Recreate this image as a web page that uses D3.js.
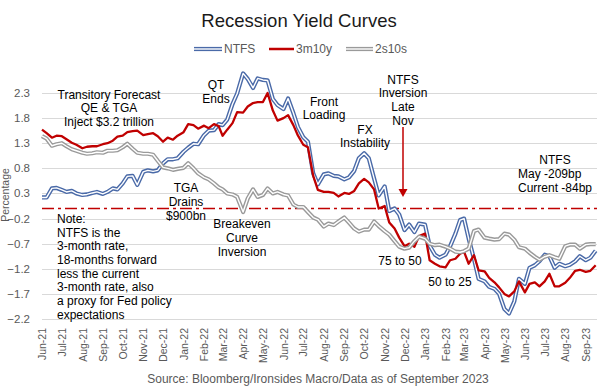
<!DOCTYPE html>
<html>
<head>
<meta charset="utf-8">
<script src="https://cdn.jsdelivr.net/npm/d3@7"></script>
<style>
html,body{margin:0;padding:0;background:#fff;}
svg{display:block;font-family:"Liberation Sans",Arial,sans-serif;}
</style>
</head>
<body>
<svg id="chart" width="600" height="391"></svg>
<script>
// ---- data ----
const months = ["2021-06","2021-07","2021-08","2021-09","2021-10","2021-11","2021-12",
  "2022-01","2022-02","2022-03","2022-04","2022-05","2022-06","2022-07","2022-08","2022-09",
  "2022-10","2022-11","2022-12","2023-01","2023-02","2023-03","2023-04","2023-05","2023-06",
  "2023-07","2023-08","2023-09"];
const obsDays = ["01","08","16","23"];
const seriesNames = ["NTFS","3m10y","2s10s"];
const yTicks = [-2.2,-1.7,-1.2,-0.7,-0.2,0.3,0.8,1.3,1.8,2.3];

const ntfs = [
  0.22,0.22,0.40,0.41, 0.37,0.33,0.35,0.30, 0.27,0.28,0.31,0.33, 0.29,0.33,0.40,0.38,
  0.50,0.64,0.65,0.47, 0.73,0.76,0.74,0.76, 0.90,0.98,0.98,1.00, 1.13,1.21,1.29,1.28,
  1.46,1.55,1.56,1.68, 1.66,1.77,2.08,2.29, 2.69,2.58,2.40,2.59, 2.56,2.55,2.18,2.06,
  1.98,2.19,1.90,1.62, 1.42,1.33,0.70,0.48, 0.68,0.70,0.65,0.64, 0.58,0.62,0.75,1.00,
  1.10,1.00,0.60,0.26, 0.44,-0.05,0.00,-0.12, -0.43,-0.32,-0.47,-0.30, -0.32,-0.74,-0.92,-0.98,
  -0.92,-0.75,-0.50,-0.23, -0.20,-0.60,-1.00,-1.40, -1.45,-1.56,-1.60,-1.70, -2.00,-2.09,-1.85,-1.40,
  -1.50,-1.18,-1.13,-1.05, -0.92,-0.95,-1.18,-1.10, -1.15,-1.12,-1.05,-0.95, -1.03,-0.98,-0.84];
const m3y10 = [
  1.57,1.50,1.41,1.45, 1.44,1.38,1.31,1.27, 1.20,1.23,1.24,1.24, 1.28,1.30,1.35,1.43,
  1.45,1.52,1.54,1.55, 1.46,1.48,1.50,1.44, 1.33,1.41,1.37,1.45, 1.52,1.68,1.66,1.59,
  1.65,1.60,1.68,1.64, 1.45,1.57,1.70,1.92, 1.91,2.03,2.10,2.12, 2.12,2.30,1.95,1.75,
  1.80,1.86,1.66,1.45, 1.27,1.22,0.65,0.37, 0.33,0.33,0.31,0.24, 0.31,0.29,0.35,0.50,
  0.59,0.52,0.38,0.00, 0.05,-0.28,-0.40,-0.58, -0.75,-0.70,-0.76,-0.55, -0.50,-1.03,-1.10,-1.15,
  -1.17,-1.03,-1.00,-0.90, -0.86,-1.10,-0.93,-1.23, -1.25,-1.38,-1.47,-1.57, -1.70,-1.75,-1.65,-1.45,
  -1.67,-1.50,-1.47,-1.55, -1.45,-1.30,-1.55,-1.55, -1.48,-1.38,-1.24,-1.22, -1.26,-1.24,-1.13];
const s2s10 = [
  1.44,1.39,1.25,1.28, 1.30,1.24,1.18,1.15, 1.11,1.09,1.10,1.12, 1.11,1.15,1.15,1.16,
  1.22,1.29,1.19,1.11, 1.09,1.09,1.07,0.95, 0.82,0.80,0.77,0.79, 0.81,0.90,0.80,0.70,
  0.62,0.58,0.50,0.42, 0.38,0.30,0.28,0.23, -0.07,0.20,0.38,0.23, 0.27,0.40,0.30,0.33,
  0.28,0.26,0.08,0.03, 0.03,-0.07,-0.18,-0.22, -0.36,-0.30,-0.33,-0.26, -0.18,-0.28,-0.40,-0.46,
  -0.42,-0.42,-0.26,-0.35, -0.45,-0.52,-0.65,-0.76, -0.80,-0.78,-0.65,-0.56, -0.60,-0.70,-0.73,-0.72,
  -0.76,-0.80,-0.86,-0.87, -0.85,-0.80,-0.45,-0.42, -0.58,-0.60,-0.62,-0.61, -0.50,-0.52,-0.62,-0.77,
  -0.80,-0.88,-0.96,-1.02, -0.96,-0.93,-0.97,-1.00, -0.75,-0.72,-0.72,-0.80, -0.72,-0.71,-0.71];

// ---- build ----
const parse = d3.timeParse("%Y-%m-%d");
const dates = [];
months.forEach(m => obsDays.forEach(d => dates.push(parse(m + "-" + d))));
const monthDates = months.map(m => parse(m + "-01"));

const svg = d3.select("#chart");
const L = 42, R = 597, B = 319;
const x = d3.scaleTime().domain([parse("2021-06-01"), parse("2023-09-18")]).range([L, R]);
const y = d3.scaleLinear().domain([-2.2, 2.3]).range([B, 93]);

const grey = "#595959";

// gridlines
svg.append("g").selectAll("line").data(yTicks).join("line")
  .attr("x1", L).attr("x2", R)
  .attr("y1", d => Math.round(y(d)) + 0.5).attr("y2", d => Math.round(y(d)) + 0.5)
  .attr("stroke", "#d9d9d9").attr("stroke-width", 1);

// y tick labels
svg.append("g").selectAll("text").data(yTicks).join("text")
  .attr("x", 30).attr("y", d => y(d)).attr("dy", "0.35em")
  .attr("text-anchor", "end").attr("font-size", 11.5).attr("fill", grey)
  .text(d => d3.format(".1f")(d));

// x axis
const xAxis = d3.axisBottom(x).tickValues(monthDates).tickSize(0)
  .tickFormat(d3.timeFormat("%b-%y"));
const gx = svg.append("g").attr("transform", `translate(0,${B})`).call(xAxis);
gx.select(".domain").remove();
gx.selectAll("text")
  .attr("transform", "rotate(-90)")
  .attr("x", -9).attr("y", 0).attr("dy", "0.35em")
  .attr("text-anchor", "end")
  .attr("font-size", 10.5).attr("fill", grey)
  .attr("font-family", "\"Liberation Sans\",Arial,sans-serif");

// axis title
svg.append("text").attr("transform", "translate(9,195) rotate(-90)")
  .attr("text-anchor", "middle").attr("font-size", 10.5).attr("fill", grey)
  .text("Percentage");

// zero reference line
svg.append("line").attr("x1", L).attr("x2", R)
  .attr("y1", y(0)).attr("y2", y(0))
  .attr("stroke", "#C00000").attr("stroke-width", 1.3)
  .attr("stroke-dasharray", "12,4,3,4");

// lines
const line = vals => d3.line().x((d, i) => x(dates[i])).y(d => y(d))(vals);
function doubleLine(vals, color) {
  svg.append("path").attr("d", line(vals)).attr("fill", "none")
    .attr("stroke", color).attr("stroke-width", 4.2).attr("stroke-linejoin", "round");
  svg.append("path").attr("d", line(vals)).attr("fill", "none")
    .attr("stroke", "#fff").attr("stroke-width", 1.4).attr("stroke-linejoin", "round");
}
doubleLine(ntfs, "#4A6AA8");
svg.append("path").attr("d", line(m3y10)).attr("fill", "none")
  .attr("stroke", "#C00000").attr("stroke-width", 2.3).attr("stroke-linejoin", "round");
doubleLine(s2s10, "#9a9a9a");

// title
svg.append("text").attr("x", 299).attr("y", 27).attr("text-anchor", "middle")
  .attr("font-size", 18.5).attr("fill", "#1a1a1a").text("Recession Yield Curves");

// legend
const legY = 49;
const leg = [
  {name: seriesNames[0], x1: 194, x2: 222, tx: 224, type: "double", color: "#4A6AA8"},
  {name: seriesNames[1], x1: 269, x2: 294, tx: 296, type: "solid", color: "#C00000"},
  {name: seriesNames[2], x1: 346, x2: 373, tx: 375, type: "double", color: "#9a9a9a"}
];
leg.forEach(l => {
  if (l.type === "double") {
    svg.append("line").attr("x1", l.x1).attr("x2", l.x2).attr("y1", legY).attr("y2", legY)
      .attr("stroke", l.color).attr("stroke-width", 4.2);
    svg.append("line").attr("x1", l.x1).attr("x2", l.x2).attr("y1", legY).attr("y2", legY)
      .attr("stroke", "#fff").attr("stroke-width", 1.4);
  } else {
    svg.append("line").attr("x1", l.x1).attr("x2", l.x2).attr("y1", legY).attr("y2", legY)
      .attr("stroke", l.color).attr("stroke-width", 2.5);
  }
  svg.append("text").attr("x", l.tx).attr("y", legY).attr("dy", "0.35em")
    .attr("font-size", 12).attr("fill", grey).text(l.name);
});

// annotations
function block(lines, cx, cy0, anchor, step) {
  const t = svg.append("text").attr("font-size", 12).attr("fill", "#000")
    .attr("text-anchor", anchor || "middle");
  lines.forEach((s, i) => {
    t.append("tspan").attr("x", cx).attr("y", cy0 + i * (step || 13.6) + 4.3).text(s);
  });
}
block(["Transitory Forecast", "QE & TGA", "Inject $3.2 trillion"], 109, 94.5);
block(["QT", "Ends"], 216, 85);
block(["Front", "Loading"], 324, 101.5);
block(["FX", "Instability"], 365, 129.3);
block(["NTFS", "Inversion", "Late", "Nov"], 403, 79.5);
block(["TGA", "Drains", "$900bn"], 186, 188);
block(["Breakeven", "Curve", "Inversion"], 242, 224);
block(["NTFS"], 555, 160);
block(["May -209bp", "Current -84bp"], 518, 174, "start", 13.3);
block(["Note:", "NTFS is the", "3-month rate,", "18-months forward", "less the current",
       "3-month rate, also", "a proxy for Fed policy", "expectations"], 57, 218.5, "start", 13.7);
block(["75 to 50"], 400, 260.5);
block(["50 to 25"], 450, 281.5);

// arrow
svg.append("line").attr("x1", 403).attr("x2", 403).attr("y1", 127).attr("y2", 190)
  .attr("stroke", "#C00000").attr("stroke-width", 1.5);
svg.append("path").attr("d", "M398.5,189 L407.5,189 L403,197 Z").attr("fill", "#C00000");

// source
svg.append("text").attr("x", 318).attr("y", 383).attr("text-anchor", "middle")
  .attr("font-size", 12).attr("fill", grey)
  .text("Source: Bloomberg/Ironsides Macro/Data as of September 2023");
</script>
</body>
</html>
